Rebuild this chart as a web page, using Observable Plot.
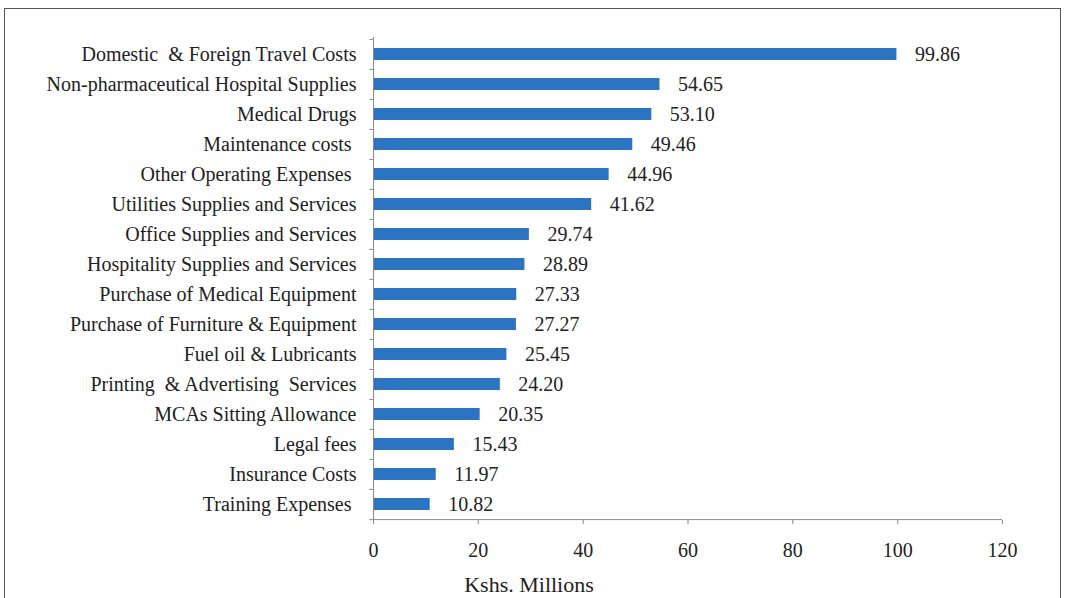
<!DOCTYPE html>
<html>
<head>
<meta charset="utf-8">
<script src="https://cdn.jsdelivr.net/npm/d3@7"></script>
<script src="https://cdn.jsdelivr.net/npm/@observablehq/plot@0.6"></script>
<style>
  html, body { margin: 0; padding: 0; background: #fff; overflow: hidden; }
  #wrap { position: relative; width: 1065px; height: 598px; }
  #frame { position: absolute; left: 4px; top: 8px; width: 1057px; height: 620px; border: 1.5px solid #555; box-sizing: border-box; pointer-events: none; }
  #chart { position: absolute; left: 0; top: 0; }
</style>
</head>
<body>
<div id="wrap"><div id="chart"></div><div id="frame"></div></div>
<script>
const categories = [
  "Domestic \u00a0& Foreign Travel Costs",
  "Non-pharmaceutical Hospital Supplies",
  "Medical Drugs",
  "Maintenance costs\u00a0",
  "Other Operating Expenses\u00a0",
  "Utilities Supplies and Services",
  "Office Supplies and Services",
  "Hospitality Supplies and Services",
  "Purchase of Medical Equipment",
  "Purchase of Furniture & Equipment",
  "Fuel oil & Lubricants",
  "Printing \u00a0& Advertising \u00a0Services",
  "MCAs Sitting Allowance",
  "Legal fees",
  "Insurance Costs",
  "Training Expenses\u00a0"
];
const values = [99.86, 54.65, 53.10, 49.46, 44.96, 41.62, 29.74, 28.89, 27.33, 27.27, 25.45, 24.20, 20.35, 15.43, 11.97, 10.82];
const xTicks = [0, 20, 40, 60, 80, 100, 120];
const xLabel = "Kshs. Millions";

const data = categories.map((c, i) => ({category: c, value: values[i]}));
const W = 1065, H = 598;
const mL = 373, mR = 63, mT = 37, mB = 78;
const step = (H - mT - mB) / categories.length;
const font = "'Liberation Serif', 'Times New Roman', serif";
const barColor = "#2c74c2";
const textColor = "#222222";
const axisColor = "#8a8a8a";
const fs = 20;

const chart = Plot.plot({
  width: W,
  height: H,
  marginLeft: mL,
  marginRight: mR,
  marginTop: mT,
  marginBottom: mB,
  style: {fontFamily: font, fontSize: fs + "px", color: textColor, background: "transparent"},
  x: {domain: [0, 120]},
  y: {domain: categories, paddingInner: 0.6, paddingOuter: 0.3, align: 0.5},
  marks: [
    Plot.barX(data, {y: "category", x: "value", fill: barColor}),
    Plot.text(data, {y: "category", x: "value", text: d => d.value.toFixed(2), dx: 18, textAnchor: "start", fill: textColor, fontSize: fs}),
    Plot.axisY({tickSize: 0, tickPadding: 17, fill: textColor, fontSize: fs, label: null}),
    Plot.axisX({ticks: xTicks, tickSize: 4, tickPadding: 18, stroke: axisColor, fill: textColor, fontSize: fs, label: null}),
    Plot.ruleX([0], {stroke: axisColor, strokeWidth: 1}),
    Plot.ruleY(categories, {y: d => d, x1: -0.7, x2: 0, dy: -step / 2, stroke: axisColor}),
    Plot.ruleY([categories[categories.length - 1]], {y: d => d, x1: -0.7, x2: 0, dy: step / 2, stroke: axisColor}),
    Plot.ruleY([categories[categories.length - 1]], {y: d => d, x1: 0, x2: 120, dy: step / 2, stroke: axisColor}),
    Plot.text([xLabel], {frameAnchor: "bottom", text: d => d, dx: -159, dy: 71, fontSize: 22, fill: textColor, lineAnchor: "bottom"})
  ]
});
document.getElementById("chart").append(chart);
</script>
</body>
</html>
